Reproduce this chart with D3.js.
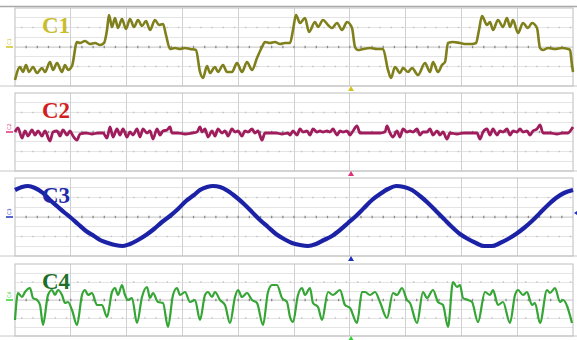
<!DOCTYPE html>
<html>
<head>
<meta charset="utf-8">
<script src="https://cdn.jsdelivr.net/npm/d3@7"></script>
<style>
  body { margin: 0; background: #fff; }
  svg { display: block; }
</style>
</head>
<body>
<div id="scope"></div>
<script>
// channel names
let channels = ["C1", "C2", "C3", "C4"];

// C1 - stepped signal with ripple (time in samples, level in mV)
let c1Time = [0, 5, 8, 11, 14, 18, 22, 27, 30, 35, 38, 42, 47, 50, 53, 57, 62,
  65, 70, 75, 80, 85, 89, 92, 94,
  97, 100, 103, 107, 111, 115, 119, 123, 127, 131, 135, 140, 144, 148, 151, 155,
  160, 165, 170, 175, 181, 185, 188,
  192, 195, 200, 203, 208, 212, 217, 222, 227, 232, 237, 242, 247, 250,
  255, 260, 265, 270, 275, 278, 281,
  285, 290, 294, 300, 303, 308, 313, 317, 322, 327, 332, 337, 340, 343,
  348, 355, 362, 368, 373, 376,
  380, 385, 388, 393, 397, 403, 410, 415, 418, 423, 427, 430, 433,
  438, 445, 451, 457, 461, 464, 467,
  472, 475, 478, 483, 488, 492, 495, 498, 503, 508, 513, 517, 522, 525, 528,
  533, 540, 547, 553, 555, 557, 558];
let c1Level = [-33, -20, -25, -18, -25, -20, -26, -21, -25, -15, -23, -16, -25, -18, -23, -19, 5,
  4, 6, 3, 4, 2, 4, 17, 32,
  20, 29, 19, 28, 18, 28, 20, 27, 21, 26, 17, 27, 22, 23, 12, -2,
  -1, -2, -1, -2, -3, -25, -31,
  -19, -26, -20, -25, -18, -25, -25, -16, -25, -15, -23, -11, 0, 5,
  4, 5, 3, 4, 4, 17, 32,
  24, 29, 15, 25, 20, 27, 22, 19, 24, 17, 25, 19, 0, -3,
  -2, -1, -2, -2, -23, -31,
  -20, -26, -21, -25, -21, -28, -16, -25, -15, -25, -18, -15, 4,
  5, 4, 3, 3, 4, 17, 31,
  22, 25, 17, 27, 20, 29, 20, 27, 14, 24, 19, 24, 19, -1, -3,
  -1, -2, -1, -2, -3, -18, -25];

// C2 - small noisy signal
let c2Time = [0, 3, 7, 10, 13, 17, 20, 23, 27, 30, 35, 38, 42, 45, 48, 52, 55, 58, 62,
  65, 71, 77, 83, 88, 92,
  95, 98, 102, 105, 108, 112, 115, 118, 122, 125, 128, 132, 135, 138, 142, 145, 148, 152, 155,
  157, 163, 170, 177, 182, 185,
  187, 190, 193, 197, 200, 203, 207, 210, 213, 217, 220, 223, 227, 230, 233, 237, 240, 243, 247, 250,
  255, 261, 267, 273,
  275, 278, 282, 285, 288, 292, 295, 298, 302, 305, 308, 312, 315, 318, 322, 325, 328, 332, 335, 338, 342,
  345, 352, 359, 365, 370, 372,
  375, 378, 382, 385, 388, 392, 395, 398, 402, 405, 408, 412, 415, 418, 422, 425, 428, 432,
  435, 442, 449, 456, 462, 465,
  468, 472, 475, 478, 482, 485, 488, 492, 495, 498, 502, 505, 508, 512, 515, 518, 522, 525,
  528, 535, 542, 548, 553, 556, 558];
let c2Level = [0, 4, -6, 1, -4, 2, -3, 1, -4, 1, -9, 0, 1, -4, 2, -3, 1, -4, -8,
  -2, -1, -2, -1, -1, -6,
  5, -5, 3, -3, 3, -5, 0, -3, 3, -5, 3, -1, 1, -7, 3, -3, 1, 2, 5,
  -1, -1, -2, -1, 0, 5,
  0, 3, -5, 1, -4, 3, -1, 1, -4, 3, 0, 1, -4, 1, 0, 3, -1, 1, -8, -1,
  -1, -1, -2, -1,
  -3, 1, -3, 3, 0, 1, -3, 3, 0, 1, 0, 1, 0, 3, -3, 1, 0, 1, -3, 1, 6,
  -1, -1, -1, -1, 0, 6,
  -1, -5, 1, -5, 3, 0, 1, 0, 3, -3, 0, 0, 3, -3, 1, -3, 0, -7,
  -1, -2, -1, -1, -1, -7,
  0, 3, -3, 3, -3, 1, 0, 3, -3, 1, 0, 3, 0, 1, -3, 1, 3, 7,
  -1, -1, -2, -1, -1, 2, 5];

// C3 - sine-like signal
let c3Time = [0, 7, 13, 20, 28, 35, 43, 50, 55, 63, 71, 79, 85, 93, 100, 108, 115, 123, 131, 139,
  147, 155, 163, 171, 179, 185, 192, 198, 205, 213, 221, 229, 237, 245, 253, 261, 269, 277, 285, 293,
  301, 309, 317, 325, 333, 341, 349, 357, 365, 373, 381, 389, 397, 405, 413, 421, 429, 437, 445, 453,
  461, 469, 477, 485, 493, 501, 509, 517, 525, 533, 541, 549, 558];
let c3Level = [27, 30, 31, 29, 24, 17, 10, 4, 0, -7, -14, -19, -23, -26, -28, -29, -27, -23, -18, -12,
  -5, 1, 8, 16, 22, 27, 30, 31, 30, 26, 20, 13, 5, -3, -10, -17, -22, -26, -28, -29,
  -27, -23, -19, -13, -6, 1, 9, 17, 23, 28, 31, 30, 27, 21, 14, 6, -2, -10, -17, -22,
  -26, -29, -29, -26, -22, -17, -11, -4, 4, 12, 19, 24, 27];

// C4 - distorted periodic signal
let c4Time = [0, 3, 7, 10, 15, 18, 22, 25, 28, 33,
  37, 40, 43, 47, 50, 53, 57, 62, 67, 70,
  73, 77, 82, 87, 92, 97, 100, 103, 107, 110,
  113, 117, 122, 127, 132, 135, 138, 143, 148, 153,
  158, 162, 165, 170, 175, 180, 185, 190, 193, 197,
  200, 205, 210, 215, 220, 223, 227, 232, 237, 242,
  248, 253, 257, 262, 267, 272, 275, 278, 283, 287,
  290, 295, 298, 303, 307, 313, 318, 325, 330, 335,
  342, 347, 350, 355, 360, 365, 372, 378, 382, 387,
  392, 395, 402, 408, 412, 418, 423, 428, 433, 438,
  442, 445, 448, 453, 457, 463, 470, 475, 478, 483,
  488, 495, 500, 503, 508, 512, 517, 520, 525, 532,
  535, 540, 545, 548, 557];
let c4Level = [-20, 7, 3, 8, 12, 2, 0, -5, -25, 5,
  10, 5, 10, 5, -3, -2, -10, -25, 5, 10,
  5, 7, -5, -5, -17, 8, 12, 5, 15, 5,
  0, 2, -23, 3, 13, 2, 7, -2, -3, -27,
  5, 12, 5, 8, -2, 0, -20, 5, 8, 3,
  8, 0, -5, -23, 3, 10, 3, 7, 0, -3,
  -25, 8, 15, 15, 2, -2, -17, -22, 5, 12,
  5, 12, -3, -7, -20, 8, 5, 10, -5, -8,
  -23, 8, 8, 5, 8, -2, -18, 7, 5, 12,
  0, -3, -23, 8, 2, 10, -2, -5, -27, 18,
  13, 15, 2, 0, -2, -22, 8, 5, 10, -5,
  -2, -23, 5, 10, 5, 8, -5, -3, -23, 10,
  7, 12, -2, 0, -23];

let timeSpan = 558, timeDivs = 10, levelDivs = 8;
let triggerTime = 336;

let traces = [
  { time: c1Time, level: c1Level, color: "#7f7f1c", label: "#c9bc2e", mark: "#d2c21e", width: 2.6 },
  { time: c2Time, level: c2Level, color: "#a01c5c", label: "#d21e1e", mark: "#e0307a", width: 2.8 },
  { time: c3Time, level: c3Level, color: "#1c22a6", label: "#1e2aa8", mark: "#2030c0", width: 4.2 },
  { time: c4Time, level: c4Level, color: "#34a534", label: "#1d6e28", mark: "#2ed02e", width: 2.2 }
];

let width = 577, height = 340;
let left = 15, right = 573;
let panelTop = [8, 93, 178, 264],
  panelHeight = [78, 78, 78, 72];

let svg = d3
  .select("#scope")
  .append("svg")
  .attr("width", width)
  .attr("height", height)
  .style("font-family", "'Liberation Serif', serif");

svg.append("defs")
  .append("filter")
  .attr("id", "soft")
  .append("feGaussianBlur")
  .attr("stdDeviation", 0.45);

let xScale = d3.scaleLinear().domain([0, timeSpan]).range([left, right]);

// top rule
svg.append("line")
  .attr("x1", 0).attr("x2", width)
  .attr("y1", panelTop[0] - 1.5).attr("y2", panelTop[0] - 1.5)
  .style("stroke", "#a8a8a8")
  .style("stroke-width", 1.5);

traces.forEach((tr, i) => {
  let top = panelTop[i], h = panelHeight[i];
  let yScale = d3.scaleLinear().domain([-h / 2, h / 2]).range([top + h, top]);
  let g = svg.append("g");

  // horizontal gridlines
  g.selectAll(".hgrid")
    .data(d3.range(1, levelDivs))
    .join("line")
    .attr("x1", left).attr("x2", right)
    .attr("y1", d => top + d * h / levelDivs)
    .attr("y2", d => top + d * h / levelDivs)
    .style("stroke", "#e4e4e4")
    .style("shape-rendering", "crispEdges");

  // dotted rows
  g.selectAll(".drow")
    .data([2, 6])
    .join("line")
    .attr("x1", left + 6).attr("x2", right)
    .attr("y1", d => top + d * h / levelDivs)
    .attr("y2", d => top + d * h / levelDivs)
    .style("stroke", "#c4c4c4")
    .style("stroke-width", 1.4)
    .style("stroke-dasharray", "1.4, 9.8");

  // vertical gridlines
  g.selectAll(".vgrid")
    .data(d3.range(1, timeDivs))
    .join("line")
    .attr("x1", d => xScale(d * timeSpan / timeDivs))
    .attr("x2", d => xScale(d * timeSpan / timeDivs))
    .attr("y1", top).attr("y2", top + h)
    .style("stroke", "#d0d0d0")
    .style("shape-rendering", "crispEdges");

  // centre line with minor ticks
  g.append("line")
    .attr("x1", left).attr("x2", right)
    .attr("y1", yScale(0)).attr("y2", yScale(0))
    .style("stroke", "#cfcfcf");
  g.selectAll(".tick")
    .data(d3.range(1, timeDivs * 5))
    .join("line")
    .attr("x1", d => xScale(d * timeSpan / (timeDivs * 5)))
    .attr("x2", d => xScale(d * timeSpan / (timeDivs * 5)))
    .attr("y1", yScale(0) - 1.2).attr("y2", yScale(0) + 1.2)
    .style("stroke", "#8a8a8a")
    .style("stroke-width", 1.3);

  // frame
  g.append("rect")
    .attr("x", left).attr("y", top)
    .attr("width", right - left).attr("height", h)
    .style("fill", "none")
    .style("stroke", "#bdbdbd");
  g.append("line")
    .attr("x1", 0).attr("x2", width)
    .attr("y1", top + h).attr("y2", top + h)
    .style("stroke", "#c8c8c8");

  // trace
  let pts = tr.time.map((t, k) => [t, tr.level[k]]);
  let line = d3.line()
    .x(d => xScale(d[0]))
    .y(d => yScale(d[1]))
    .curve(d3.curveMonotoneX);
  g.append("path")
    .datum(pts)
    .attr("d", line)
    .attr("filter", "url(#soft)")
    .style("fill", "none")
    .style("stroke", tr.color)
    .style("stroke-width", tr.width)
    .style("stroke-linejoin", "round");

  // big channel label
  g.append("text")
    .text(channels[i])
    .attr("x", 42)
    .attr("y", top + 25)
    .style("font-size", "23px")
    .style("font-weight", "bold")
    .style("fill", tr.label);

  // small ground marker on the left
  g.append("line")
    .attr("x1", 6).attr("x2", 13)
    .attr("y1", yScale(0)).attr("y2", yScale(0))
    .style("stroke", tr.mark)
    .style("stroke-width", 1.5);
  g.append("text")
    .text(channels[i])
    .attr("transform", "translate(11," + (yScale(0) - 2) + ") rotate(-90)")
    .style("font-family", "'DejaVu Sans', sans-serif")
    .style("font-size", "5px")
    .style("fill", tr.mark);

  // trigger marker under panel
  let tx = xScale(triggerTime), ty = top + h + 5;
  g.append("path")
    .attr("d", "M" + (tx - 3) + "," + ty + "L" + (tx + 3) + "," + ty + "L" + tx + "," + (ty - 5) + "Z")
    .style("fill", tr.mark);
});

// C3 offset arrow on the right edge
let y3 = d3.scaleLinear().domain([-39, 39]).range([panelTop[2] + 78, panelTop[2]]);
svg.append("path")
  .attr("d", "M" + (right + 1) + "," + y3(4) + "L" + (right + 4) + "," + (y3(4) - 2) + "L" + (right + 4) + "," + (y3(4) + 2) + "Z")
  .style("fill", "#2030c0");
</script>
</body>
</html>
